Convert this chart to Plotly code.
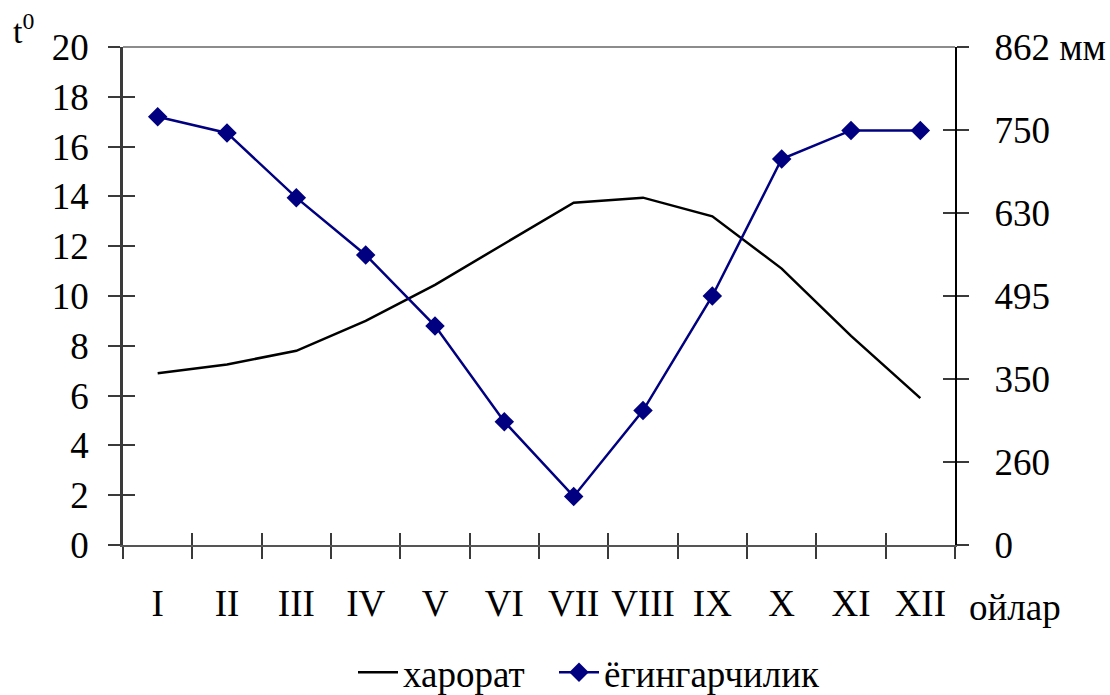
import plotly.graph_objects as go

# Months (Roman numerals) and the two series
months = ["I", "II", "III", "IV", "V", "VI", "VII", "VIII", "IX", "X", "XI", "XII"]
temperature = [6.9, 7.25, 7.8, 9.0, 10.45, 12.1, 13.75, 13.95, 13.2, 11.1, 8.4, 5.9]
precipitation = [17.2, 16.55, 13.95, 11.65, 8.8, 4.95, 1.95, 5.4, 10.0, 15.5, 16.65, 16.65]

# Right-hand axis labels (evenly spaced)
right_ticktext = ["0", "260", "350", "495", "630", "750", "862 мм"]

month_pos = list(range(1, len(months) + 1))
boundaries = [i + 0.5 for i in range(0, len(months) + 1)]

FONT = "Liberation Serif, Times New Roman, serif"
AXIS_COL = "#3a3a3a"
FS = 37

fig = go.Figure()

fig.add_trace(go.Scatter(
    x=month_pos, y=temperature, name="харорат", mode="lines",
    line=dict(color="black", width=2.5),
    xaxis="x", yaxis="y", legend="legend",
))
fig.add_trace(go.Scatter(
    x=month_pos, y=precipitation, name="ёгингарчилик", mode="lines+markers",
    line=dict(color="#000080", width=2.5),
    marker=dict(symbol="diamond", size=15, color="#000080"),
    xaxis="x", yaxis="y", legend="legend2",
))

# empty helper traces so every overlay axis is rendered
for xa, ya in [("x2", "y"), ("x3", "y"), ("x", "y2"), ("x", "y3"), ("x", "y4")]:
    fig.add_trace(go.Scatter(x=[None], y=[None], xaxis=xa, yaxis=ya,
                             showlegend=False, hoverinfo="skip"))

tickfont = dict(family=FONT, size=FS, color="black")
xr = [0.5, len(months) + 0.5]
legend_common = dict(orientation="h", xref="container", yref="container",
                     y=0.032, yanchor="middle",
                     font=dict(family=FONT, size=FS, color="black"),
                     bgcolor="rgba(0,0,0,0)", itemwidth=40)

fig.update_layout(
    width=1110, height=695,
    margin=dict(l=123, r=155, t=47, b=150, autoexpand=False),
    plot_bgcolor="white", paper_bgcolor="white",
    font=dict(family=FONT, color="black"),
    showlegend=True,
    legend=dict(x=530 / 1110, xanchor="right", **legend_common),
    legend2=dict(x=554 / 1110, xanchor="left", **legend_common),
    # outside half of the crossing boundary ticks + bottom axis line
    xaxis=dict(range=xr, tickvals=boundaries, ticktext=[""] * len(boundaries),
               ticks="outside", ticklen=12, tickwidth=1.5, tickcolor=AXIS_COL,
               showline=True, linecolor="#555555", linewidth=2,
               showgrid=False, zeroline=False, fixedrange=True),
    # inside half of the crossing ticks
    xaxis2=dict(range=xr, overlaying="x", anchor="y", side="bottom",
                tickvals=boundaries, ticks="inside", ticklen=12, tickwidth=1.5,
                tickcolor=AXIS_COL, showticklabels=False, showline=False,
                showgrid=False, zeroline=False),
    # month labels
    xaxis3=dict(range=xr, overlaying="x", anchor="y", side="bottom",
                tickvals=month_pos, ticktext=months, ticks="", tickfont=tickfont,
                ticklabelstandoff=33, showline=False, showgrid=False, zeroline=False),
    yaxis=dict(range=[0, 20], tickvals=list(range(0, 21, 2)),
               ticks="outside", ticklen=12, tickwidth=1.5, tickcolor=AXIS_COL,
               tickfont=tickfont, ticklabelstandoff=12,
               showline=True, linecolor=AXIS_COL, linewidth=2.5,
               showgrid=False, zeroline=False, fixedrange=True),
    yaxis2=dict(range=[0, 6], overlaying="y", side="right", anchor="x",
                tickvals=list(range(len(right_ticktext))), ticktext=right_ticktext,
                ticks="outside", ticklen=12, tickwidth=1.5, tickcolor=AXIS_COL,
                tickfont=tickfont, ticklabelstandoff=18,
                showline=True, linecolor="black", linewidth=2,
                showgrid=False, zeroline=False),
    yaxis3=dict(range=[0, 20], overlaying="y", side="left", anchor="x",
                tickvals=list(range(0, 21, 2)), ticks="inside", ticklen=12,
                tickwidth=1.5, tickcolor=AXIS_COL, showticklabels=False,
                showline=False, showgrid=False, zeroline=False),
    yaxis4=dict(range=[0, 6], overlaying="y", side="right", anchor="x",
                tickvals=list(range(len(right_ticktext))), ticks="inside", ticklen=12,
                tickwidth=1.5, tickcolor=AXIS_COL, showticklabels=False,
                showline=False, showgrid=False, zeroline=False),
    shapes=[dict(type="line", xref="paper", yref="paper", x0=0, x1=1, y0=1, y1=1,
                 line=dict(color="#8c8c8c", width=2))],
    annotations=[
        dict(text="t<sup>0</sup>", xref="paper", yref="paper", x=-0.105, y=0.99,
             xanchor="right", yanchor="bottom", showarrow=False,
             font=dict(family=FONT, size=34, color="black")),
        dict(text="ойлар", xref="paper", yref="paper", x=1.072, y=-0.125,
             xanchor="center", yanchor="middle", showarrow=False,
             font=dict(family=FONT, size=FS, color="black")),
    ],
)

fig.write_html("out.html")
